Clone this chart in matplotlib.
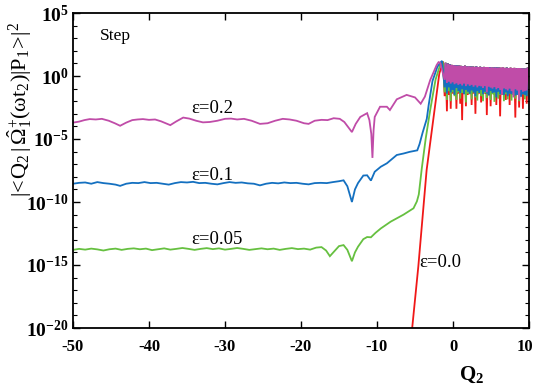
import numpy as np
import matplotlib
matplotlib.use("Agg")
import matplotlib.pyplot as plt
import matplotlib.transforms as mtransforms
from matplotlib.ticker import FixedLocator, FuncFormatter, NullFormatter

plt.rcParams['font.family'] = ['Liberation Serif', 'DejaVu Serif']
plt.rcParams['mathtext.fontset'] = 'custom'
plt.rcParams['mathtext.rm'] = 'Liberation Serif'
plt.rcParams['mathtext.it'] = 'Liberation Serif:italic'
plt.rcParams['mathtext.bf'] = 'Liberation Serif:bold'
plt.rcParams['axes.unicode_minus'] = False

# ---------------- data (log10 of |<Q2|...|P1>|^2) ----------------
mag_q = [-50, -49.2, -48.5, -47.8, -47, -46.2, -45.3, -44.5, -43.8, -43.0, -42.2, -41.5,
         -40.8, -40.0, -39.2, -38.4, -37.2, -36.4, -35.5, -34.7, -33.8, -32.9, -32.0,
         -31.0, -30.0, -29.2, -28.4, -27.5, -26.5, -25.4, -24.4, -23.4, -22.4, -21.5,
         -20.6, -19.6, -19.0, -18.2, -17.3, -16.5, -15.7, -14.9, -14.3, -13.3, -12.8,
         -12.2, -11.3, -11.0, -10.75, -10.6, -10.45, -10.3, -9.6, -8.7, -8.3, -7.4,
         -6.1, -5.0, -4.25, -3.7, -3.0, -2.15, -1.9, -1.7]
mag_v = [-3.70, -3.62, -3.50, -3.42, -3.45, -3.40, -3.55, -3.75, -3.95, -3.70, -3.50, -3.45,
         -3.42, -3.48, -3.45, -3.60, -3.90, -3.60, -3.30, -3.38, -3.55, -3.68, -3.65,
         -3.55, -3.40, -3.38, -3.45, -3.40, -3.55, -3.80, -3.75, -3.55, -3.40, -3.45,
         -3.55, -3.75, -3.80, -3.55, -3.48, -3.50, -3.35, -3.40, -3.65, -4.45, -3.80,
         -3.25, -2.95, -3.50, -4.60, -6.50, -4.30, -3.25, -2.44, -2.44, -2.70, -1.85,
         -1.50, -1.70, -2.20, -1.64, -0.32, 0.87, 1.10, 1.06]

blu_q = [-50, -49.2, -48.4, -47.6, -46.8, -46, -45.2, -44.4, -43.8, -43.0, -42.2, -41.4,
         -40.6, -39.8, -39.0, -38.2, -37.4, -36.6, -35.8, -35.0, -34.2, -33.4, -32.6,
         -31.8, -31.0, -30.2, -29.4, -28.6, -27.8, -27.0, -26.2, -25.4, -24.6, -23.8,
         -23.0, -22.2, -21.4, -20.6, -19.8, -19.0, -18.2, -17.4, -16.6, -15.8, -15.0,
         -14.4, -13.9, -13.3, -12.9, -12.5, -11.8, -11.3, -10.8, -10.3, -9.5, -8.7,
         -7.4, -6.5, -5.7, -4.7, -4.4, -4.0, -3.45, -3.2, -2.7, -2.05, -1.6, -1.45]
blu_v = [-8.55, -8.48, -8.45, -8.55, -8.42, -8.50, -8.55, -8.62, -8.72, -8.55, -8.48, -8.50,
         -8.42, -8.50, -8.48, -8.55, -8.62, -8.50, -8.42, -8.45, -8.40, -8.50, -8.48,
         -8.55, -8.60, -8.50, -8.42, -8.48, -8.45, -8.52, -8.55, -8.68, -8.55, -8.48,
         -8.52, -8.45, -8.50, -8.48, -8.55, -8.60, -8.50, -8.48, -8.50, -8.42, -8.35,
         -8.28, -8.75, -10.0, -9.00, -8.50, -7.90, -7.88, -8.30, -7.60, -7.20, -6.93,
         -6.27, -6.15, -6.02, -5.90, -5.40, -4.50, -3.40, -2.30, -0.40, 0.74, 1.10, 1.20]

grn_q = [-50, -49.2, -48.4, -47.6, -46.8, -46.0, -45.2, -44.4, -43.6, -42.8, -42.0, -41.2,
         -40.4, -39.6, -38.8, -38.0, -37.2, -36.4, -35.6, -34.8, -34.0, -33.2, -32.4,
         -31.6, -30.8, -30.0, -29.2, -28.4, -27.6, -26.8, -26.0, -25.2, -24.4, -23.6,
         -22.8, -22.0, -21.2, -20.4, -19.6, -18.8, -18.0, -17.3, -16.7, -16.2, -15.6,
         -15.0, -14.4, -13.9, -13.3, -12.9, -12.5, -11.8, -11.3, -10.8, -10.2, -9.5,
         -8.2, -6.5, -5.2, -4.75, -4.5, -4.1, -3.6, -3.0, -2.3, -1.7, -1.35]
grn_v = [-13.80, -13.72, -13.78, -13.70, -13.76, -13.85, -13.75, -13.70, -13.80, -13.72,
         -13.68, -13.75, -13.70, -13.82, -13.75, -13.68, -13.78, -13.72, -13.65, -13.72,
         -13.80, -13.72, -13.66, -13.74, -13.68, -13.78, -13.72, -13.65, -13.72, -13.80,
         -13.74, -13.68, -13.75, -13.70, -13.80, -13.72, -13.66, -13.74, -13.70, -13.78,
         -13.62, -13.58, -13.85, -14.30, -13.90, -13.50, -13.42, -13.80, -14.70, -14.00,
         -13.55, -12.95, -12.78, -12.80, -12.45, -12.10, -11.56, -11.00, -10.50, -9.95,
         -9.40, -7.30, -5.00, -2.70, -0.30, 0.87, 1.15]

red_q = [-5.6, -5.37, -4.56, -3.47, -2.3, -1.8, -1.3]
red_v = [-21.5, -20.0, -15.1, -7.46, -2.10, 0.20, 1.15]

# fast oscillation region: trough positions, shared crest heights, per-curve troughs
osc_q = [-1.1, -0.8, -0.55, -0.3, -0.05, 0.2, 0.45, 0.7, 0.95, 1.2, 1.45, 1.7, 1.95, 2.2,
         2.45, 2.7, 2.95, 3.2, 3.45, 3.7, 3.95, 4.2, 4.45, 4.7, 4.95, 5.2, 5.45, 5.7, 5.95,
         6.2, 6.45, 6.7, 6.95, 7.2, 7.45, 7.7, 7.95, 8.2, 8.45, 8.7, 8.95, 9.2, 9.45, 9.7]
osc_top = [1.05, 0.98, 0.92, 0.88, 0.86, 0.84, 0.82, 0.84, 0.80, 0.78, 0.81, 0.76, 0.78,
           0.74, 0.76, 0.72, 0.75, 0.71, 0.73, 0.70, 0.72, 0.69, 0.71, 0.68, 0.70, 0.67,
           0.69, 0.66, 0.68, 0.65, 0.67, 0.64, 0.66, 0.63, 0.65, 0.62, 0.64, 0.61, 0.63,
           0.60, 0.62, 0.60, 0.61, 0.60]
mag_tr = [-0.30, -0.55, -0.45, -0.60, -0.50, -0.65, -0.58, -0.70, -0.62, -0.75, -0.60, -0.80,
          -0.66, -0.78, -0.70, -0.85, -0.74, -0.90, -0.78, -0.82, -0.95, -0.80, -1.30, -0.85,
          -0.92, -1.00, -0.88, -1.05, -0.95, -1.10, -1.50, -0.98, -1.05, -1.15, -1.00, -1.20,
          -1.70, -1.05, -1.15, -1.90, -1.10, -1.25, -1.20, -1.15]
blu_tr = [-0.90, -1.40, -0.90, -1.30, -1.10, -1.50, -0.95, -1.20, -1.35, -1.05, -1.45, -1.10,
          -1.25, -1.40, -1.15, -1.30, -1.60, -1.20, -1.35, -1.10, -1.45, -1.25, -1.40, -1.55,
          -1.20, -1.35, -1.30, -1.70, -1.25, -1.45, -1.35, -1.50, -1.30, -1.60, -1.40, -1.45,
          -1.35, -1.55, -1.50, -1.40, -1.65, -1.45, -1.50, -1.60]
grn_tr = [-1.30, -1.90, -1.20, -2.00, -1.30, -1.60, -1.90, -1.30, -1.80, -1.35, -1.35, -2.10,
          -1.40, -1.45, -1.85, -1.30, -1.70, -1.95, -1.35, -1.60, -2.00, -1.35, -1.75, -1.40,
          -1.90, -1.45, -2.05, -1.40, -1.80, -1.50, -1.40, -2.00, -1.45, -1.85, -1.40, -1.95,
          -1.50, -1.80, -1.40, -2.00, -1.55, -1.45, -1.85, -1.50]
red_tr = [-1.60, -2.80, -1.50, -2.60, -1.40, -1.50, -2.60, -1.40, -2.20, -3.50, -1.40, -2.40,
          -1.50, -1.40, -2.30, -1.40, -3.00, -1.50, -1.40, -2.10, -1.50, -1.40, -3.10, -1.50,
          -2.40, -1.40, -1.50, -2.30, -1.40, -3.20, -1.50, -1.40, -1.90, -1.50, -2.30, -1.40,
          -1.50, -3.30, -1.40, -2.50, -1.50, -2.60, -1.40, -2.20]

labels = ["\u03b5=0.2", "\u03b5=0.1", "\u03b5=0.05", "\u03b5=0.0"]
colors = ["#C04CA8", "#1470C0", "#66C040", "#F01818"]


def build(kq, kv, tr):
    q = list(kq)
    v = list(kv)
    for qq, t, top in zip(osc_q, tr, osc_top):
        q += [qq, qq + 0.125]
        v += [t, top]
    return np.array(q), 10.0 ** np.array(v)


fig = plt.figure(figsize=(5.34, 3.89), dpi=100)
ax = fig.add_axes([73 / 534, 1 - 328 / 389, 456 / 534, 315 / 389])

series = [(red_q, red_v, red_tr, colors[3]),
          (grn_q, grn_v, grn_tr, colors[2]),
          (blu_q, blu_v, blu_tr, colors[1]),
          (mag_q, mag_v, mag_tr, colors[0])]
for kq, kv, tr, c in series:
    q, y = build(kq, kv, tr)
    ax.plot(q, y, color=c, lw=1.3, solid_joinstyle='miter')

ax.set_yscale('log')
ax.set_xlim(-50, 10)
ax.set_ylim(1e-20, 1e5)

ax.yaxis.set_major_locator(FixedLocator([10.0 ** e for e in range(-20, 6, 5)]))
ax.yaxis.set_minor_locator(FixedLocator([10.0 ** e for e in range(-20, 6) if e % 5 != 0]))
ax.yaxis.set_major_formatter(FuncFormatter(lambda v, p: r'$\mathbf{10^{%d}}$' % int(round(np.log10(v)))))
ax.yaxis.set_minor_formatter(NullFormatter())
ax.set_xticks([-50, -40, -30, -20, -10, 0, 10])
ax.set_xticklabels(['-50', '-40', '-30', '-20', '-10', '0', '10'], fontweight='bold')
ax.tick_params(axis='both', which='both', direction='in', top=True, right=True)
ax.tick_params(axis='both', which='major', length=5, width=1.0)
ax.tick_params(axis='both', which='minor', length=3, width=0.8)
ax.tick_params(axis='x', labelsize=12, pad=8)
ax.tick_params(axis='y', labelsize=14, pad=3)
for s in ax.spines.values():
    s.set_linewidth(1.3)
# last x label sits slightly left of its tick, as in the reference
last = ax.get_xticklabels()[-1]
last.set_transform(last.get_transform() + mtransforms.ScaledTranslation(-4 / 100, 0, fig.dpi_scale_trans))

ax.text(-46.4, 10 ** 3.2, "Step", fontsize=12.5, ha='left', va='center')
ax.text(-31.7, 10 ** -2.55, labels[0], fontsize=13.5, ha='center', va='center')
ax.text(-31.7, 10 ** -7.9, labels[1], fontsize=13.5, ha='center', va='center')
ax.text(-31.0, 10 ** -13.0, labels[2], fontsize=13.5, ha='center', va='center')
ax.text(-4.4, 10 ** -14.8, labels[3], fontsize=13.5, ha='left', va='center')

fig.text(472 / 534, 1 - 375 / 389, r'$\mathbf{Q_2}$', fontsize=15, ha='center', va='center')
fig.text(20 / 534, 1 - 110 / 389,
         r'$\mathrm{|\!<\!Q_2\,|\,\hat{\Omega}_1^{+}(\omega t_2)|P_1\!>\!|^2}$',
         fontsize=16, rotation=90, ha='center', va='center')

fig.savefig("out.png", dpi=100)
